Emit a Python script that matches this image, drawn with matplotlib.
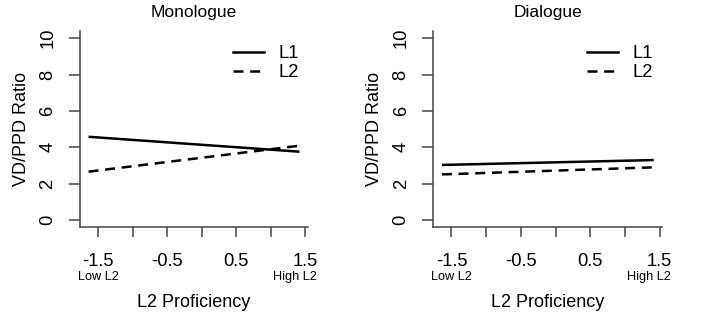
import matplotlib

matplotlib.use("Agg")
import matplotlib.pyplot as plt
from matplotlib.lines import Line2D

plt.rcParams["font.family"] = ["Liberation Sans", "DejaVu Sans"]
plt.rcParams["lines.scale_dashes"] = False

# Fitted lines: endpoints at the lowest / highest observed proficiency
x_range = [-1.638, 1.413]
panels = ["Monologue", "Dialogue"]
l1_values = {"Monologue": [4.58, 3.76], "Dialogue": [3.03, 3.30]}
l2_values = {"Monologue": [2.66, 4.09], "Dialogue": [2.51, 2.90]}
series_names = ["L1", "L2"]

x_ticks = [-1.5, -1.0, -0.5, 0.0, 0.5, 1.0, 1.5]
x_tick_labels = ["-1.5", "", "-0.5", "", "0.5", "", "1.5"]
y_ticks = [0, 2, 4, 6, 8, 10]

AX_COLOR = "#444444"
DASH = (7.2, 4.8)

fig = plt.figure(figsize=(7.09, 3.14), dpi=100)
axes_pos = [
    [80 / 709, 1 - 227.3 / 314, 228 / 709, 196.3 / 314],
    [433.3 / 709, 1 - 227.3 / 314, 229 / 709, 196.3 / 314],
]

for name, pos in zip(panels, axes_pos):
    ax = fig.add_axes(pos)
    ax.plot(x_range, l1_values[name], color="black", lw=1.8, solid_capstyle="butt")
    ax.plot(x_range, l2_values[name], color="black", lw=1.8, dashes=DASH)

    ax.set_xlim(-1.762, 1.537)
    ax.set_ylim(-0.4, 10.4)
    ax.spines["top"].set_visible(False)
    ax.spines["right"].set_visible(False)
    for s in ("left", "bottom"):
        ax.spines[s].set_color(AX_COLOR)
        ax.spines[s].set_linewidth(1.1)

    ax.set_xticks(x_ticks)
    ax.set_xticklabels(x_tick_labels)
    ax.set_yticks(y_ticks)
    ax.set_yticklabels([str(v) for v in y_ticks], rotation=90, va="center")
    ax.tick_params(axis="x", length=7.2, width=1.1, color=AX_COLOR,
                   labelsize=13.2, pad=11)
    ax.tick_params(axis="y", length=8, width=1.1, color=AX_COLOR,
                   labelsize=13.2, pad=9)

    ax.annotate("Low L2", xy=(-1.5, 0), xycoords=("data", "axes fraction"),
                xytext=(0, -36), textcoords="offset points",
                ha="center", va="center", fontsize=9.2)
    ax.annotate("High L2", xy=(1.5, 0), xycoords=("data", "axes fraction"),
                xytext=(8, -36), textcoords="offset points",
                ha="right", va="center", fontsize=9.2)

    ax.set_xlabel("L2 Proficiency", fontsize=13, labelpad=17.5)
    ax.set_ylabel("VD/PPD Ratio", fontsize=13, labelpad=7)
    ax.set_title(name, fontsize=12.5, pad=10)

    handles = [
        Line2D([], [], color="black", lw=1.8),
        Line2D([], [], color="black", lw=1.8, dashes=DASH),
    ]
    ax.legend(handles, series_names, loc="upper right", frameon=False,
              fontsize=13.2, handlelength=1.7, handletextpad=0.8,
              labelspacing=0.12, borderaxespad=0.1,
              bbox_to_anchor=(1.0, 0.975))

fig.savefig("out.png", dpi=100)
